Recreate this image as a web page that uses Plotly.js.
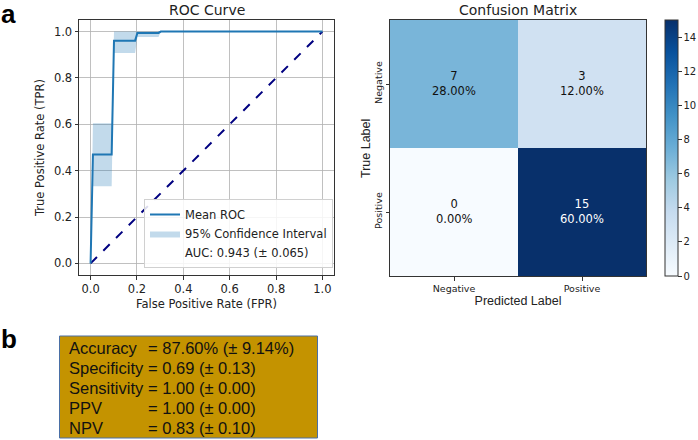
<!DOCTYPE html>
<html>
<head>
<meta charset="utf-8">
<script src="https://cdn.plot.ly/plotly-3.0.1.min.js"></script>
<style>html,body{margin:0;padding:0;background:#fff;}#chart{width:698px;height:440px;}</style>
</head>
<body>
<div id="chart"></div>
<script>
// ---- ROC data ----
const rocFpr = [0, 0.0101, 0.0909, 0.101, 0.192, 0.202, 0.293, 0.303, 1.0];
const rocTpr = [0, 0.47, 0.47, 0.961, 0.961, 0.994, 0.994, 1.0, 1.0];
const bandUpper = [0, 0.605, 0.605, 1.0, 1.0, 1.0, 1.0, 1.0, 1.0];
const bandLower = [0, 0.333, 0.333, 0.908, 0.908, 0.977, 0.977, 1.0, 1.0];
const chanceX = [0, 1];
const chanceY = [0, 1];
const aucLabel = "AUC: 0.943 (± 0.065)";

// ---- Confusion matrix data ----
const cmLabels = ["Negative", "Positive"];
const cmCounts = [[7, 3], [0, 15]];
const cmTotal = 25;
const cbTicks = [0, 2, 4, 6, 8, 10, 12, 14];

// ---- Metrics (panel b) ----
const metricNames = ["Accuracy", "Specificity", "Sensitivity", "PPV", "NPV"];
const metricValues = ["= 87.60% (± 9.14%)", "= 0.69 (± 0.13)", "= 1.00 (± 0.00)", "= 1.00 (± 0.00)", "= 0.83 (± 0.10)"];

const W = 698, H = 440;
const px = v => v / W;
const py = v => 1 - v / H;

const DJ = "DejaVu Sans";
const AR = "Liberation Sans, Arial";

const blues = [
  [0.0, "#f7fbff"], [0.125, "#deebf7"], [0.25, "#c6dbef"], [0.375, "#9ecae1"],
  [0.5, "#6baed6"], [0.625, "#4292c6"], [0.75, "#2171b5"], [0.875, "#08519c"], [1.0, "#08306b"]
];

const traces = [
  { x: rocFpr, y: bandLower, mode: "lines", line: { width: 0, color: "rgba(0,0,0,0)" },
    showlegend: false, hoverinfo: "skip", xaxis: "x", yaxis: "y" },
  { x: rocFpr, y: bandUpper, mode: "lines", fill: "tonexty", fillcolor: "rgba(31,119,180,0.27)",
    line: { width: 0, color: "rgba(31,119,180,0.27)" }, name: "95% Confidence Interval",
    legendrank: 2, xaxis: "x", yaxis: "y" },
  { x: chanceX, y: chanceY, mode: "lines", line: { color: "#000080", width: 2, dash: "dash" },
    showlegend: false, xaxis: "x", yaxis: "y" },
  { x: rocFpr, y: rocTpr, mode: "lines", line: { color: "#1f77b4", width: 2 },
    name: "Mean ROC", legendrank: 1, xaxis: "x", yaxis: "y" },
  { x: [null], y: [null], mode: "lines", line: { color: "rgba(0,0,0,0)", width: 0 },
    name: aucLabel, legendrank: 3, xaxis: "x", yaxis: "y" },
  { type: "heatmap", x: cmLabels, y: cmLabels, z: cmCounts, zmin: 0, zmax: 15,
    colorscale: blues, xaxis: "x2", yaxis: "y2", hoverinfo: "skip",
    colorbar: { x: px(665), xanchor: "left", thickness: 13, thicknessmode: "pixels",
      len: 256 / H, lenmode: "fraction", y: py(148), yanchor: "middle",
      outlinecolor: "#333", outlinewidth: 1, tickvals: cbTicks, ticks: "outside",
      ticklen: 3.5, tickcolor: "#333", tickfont: { family: DJ, size: 10, color: "#222" }, xpad: 0, ypad: 0 } }
];

const annotations = [];
// subplot titles
annotations.push({ text: "ROC Curve", xref: "paper", yref: "paper", x: px(206.5), y: py(10),
  xanchor: "center", yanchor: "middle", showarrow: false, font: { family: DJ, size: 14, color: "#222" } });
annotations.push({ text: "Confusion Matrix", xref: "paper", yref: "paper", x: px(518), y: py(10),
  xanchor: "center", yanchor: "middle", showarrow: false, font: { family: DJ, size: 14, color: "#222" } });
// True Label title
annotations.push({ text: "True Label", xref: "paper", yref: "paper", x: px(366), y: py(148),
  xanchor: "center", yanchor: "middle", textangle: -90, showarrow: false,
  font: { family: AR, size: 12.5, color: "#222" } });
// panel labels
annotations.push({ text: "<b>a</b>", xref: "paper", yref: "paper", x: px(-1), y: py(14), xanchor: "left",
  yanchor: "middle", showarrow: false, font: { family: AR, size: 26, color: "#000" } });
annotations.push({ text: "<b>b</b>", xref: "paper", yref: "paper", x: px(-1), y: py(339), xanchor: "left",
  yanchor: "middle", showarrow: false, font: { family: AR, size: 26, color: "#000" } });
// heatmap cell text
for (let i = 0; i < cmLabels.length; i++) {
  for (let j = 0; j < cmLabels.length; j++) {
    const v = cmCounts[i][j];
    annotations.push({ text: v + "<br>" + (v / cmTotal * 100).toFixed(2) + "%", x: cmLabels[j], y: cmLabels[i],
      xref: "x2", yref: "y2", showarrow: false,
      font: { family: DJ, size: 11.5, color: v > 9 ? "#ffffff" : "#111" } });
  }
}
// metrics text
for (let k = 0; k < metricNames.length; k++) {
  const yy = 348 + k * 20;
  annotations.push({ text: metricNames[k], xref: "paper", yref: "paper", x: px(67), y: py(yy),
    xanchor: "left", yanchor: "middle", showarrow: false, font: { family: AR, size: 16.5, color: "#111" } });
  annotations.push({ text: metricValues[k], xref: "paper", yref: "paper", x: px(146), y: py(yy),
    xanchor: "left", yanchor: "middle", showarrow: false, font: { family: AR, size: 16.5, color: "#111" } });
}

const axisCommon = {
  showline: true, mirror: true, linecolor: "#333", linewidth: 1, ticks: "outside", ticklen: 3.5,
  tickcolor: "#333", zeroline: false, tickfont: { family: DJ, size: 11.5, color: "#222" }
};

const layout = {
  width: W, height: H, margin: { l: 0, r: 0, t: 0, b: 0 }, paper_bgcolor: "#fff", plot_bgcolor: "#fff",
  showlegend: true,
  legend: { x: px(333), xanchor: "right", y: py(268), yanchor: "bottom", bgcolor: "rgba(255,255,255,0.85)",
    bordercolor: "#d0d0d0", borderwidth: 1, font: { family: DJ, size: 11.5, color: "#222" },
    traceorder: "normal", tracegroupgap: 0, itemwidth: 30 },
  xaxis: Object.assign({}, axisCommon, { domain: [px(79), px(334)], range: [-0.05, 1.05], anchor: "y",
    tickvals: [0, 0.2, 0.4, 0.6, 0.8, 1.0], ticktext: ["0.0", "0.2", "0.4", "0.6", "0.8", "1.0"],
    showgrid: true, gridcolor: "#b0b0b0", gridwidth: 0.8,
    title: { text: "False Positive Rate (FPR)", font: { family: DJ, size: 11.5, color: "#222" }, standoff: 4 } }),
  yaxis: Object.assign({}, axisCommon, { domain: [py(275), py(20)], range: [-0.05, 1.05], anchor: "x",
    tickvals: [0, 0.2, 0.4, 0.6, 0.8, 1.0], ticktext: ["0.0", "0.2", "0.4", "0.6", "0.8", "1.0"],
    showgrid: true, gridcolor: "#b0b0b0", gridwidth: 0.8,
    title: { text: "True Positive Rate (TPR)", font: { family: DJ, size: 11.5, color: "#222" }, standoff: 6 } }),
  xaxis2: Object.assign({}, axisCommon, { domain: [px(390), px(646)], anchor: "y2", showgrid: false,
    tickfont: { family: DJ, size: 9.5, color: "#222" },
    title: { text: "Predicted Label", font: { family: AR, size: 12.5, color: "#222" }, standoff: 0 } }),
  yaxis2: Object.assign({}, axisCommon, { domain: [py(276), py(20)], anchor: "x2", showgrid: false,
    autorange: "reversed", tickangle: -90, tickfont: { family: DJ, size: 9.5, color: "#222" } }),
  shapes: [
    { type: "rect", xref: "paper", yref: "paper", x0: px(59.5), x1: px(317.5), y0: py(438), y1: py(336),
      fillcolor: "#c49300", line: { color: "#4a6fa5", width: 1 }, layer: "below" }
  ],
  annotations: annotations
};

Plotly.newPlot("chart", traces, layout, { staticPlot: true, displayModeBar: false });
</script>
</body>
</html>
